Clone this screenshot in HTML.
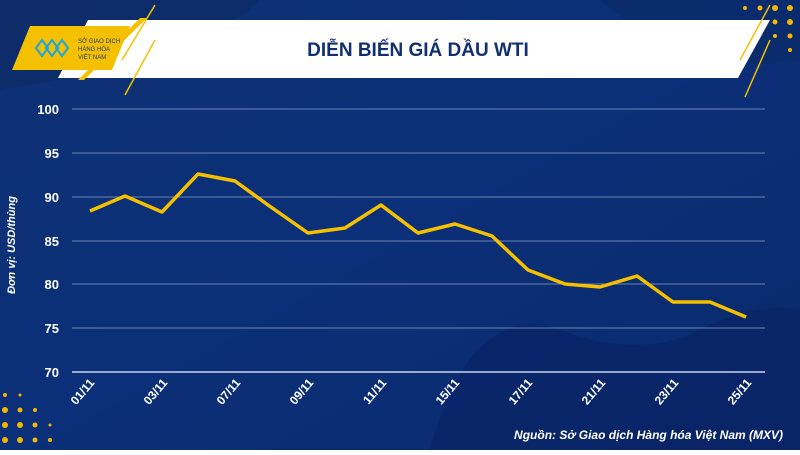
<!DOCTYPE html>
<html><head><meta charset="utf-8"><style>
body{margin:0;width:800px;height:450px;overflow:hidden;font-family:"Liberation Sans",sans-serif}
</style></head><body>
<svg width="800" height="450" viewBox="0 0 800 450" xmlns="http://www.w3.org/2000/svg">
<defs>
<linearGradient id="bg" x1="0" y1="0" x2="1" y2="1">
<stop offset="0" stop-color="#0f3274"/><stop offset="0.5" stop-color="#0b2f78"/><stop offset="1" stop-color="#0a2a6a"/>
</linearGradient>
</defs>
<rect width="800" height="450" fill="url(#bg)"/>
<path d="M0 0 L260 0 Q200 60 0 90 Z" fill="#0d2a62" opacity="0.6"/>
<path d="M430 450 Q470 300 560 330 Q640 360 700 330 Q760 300 800 310 L800 450 Z" fill="#082466" opacity="0.7"/>
<path d="M600 0 Q700 80 800 60 L800 0 Z" fill="#0a2a66" opacity="0.6"/>
<g fill="#f5b800">
<circle cx="745" cy="8" r="2"/><circle cx="760" cy="8" r="2.5"/><circle cx="775" cy="8" r="3"/><circle cx="790" cy="8" r="3"/>
<circle cx="760" cy="22" r="2"/><circle cx="775" cy="22" r="2.5"/><circle cx="790" cy="22" r="3"/>
<circle cx="775" cy="36" r="2"/><circle cx="790" cy="36" r="2.5"/>
<circle cx="790" cy="50" r="2"/>
<circle cx="5" cy="395" r="2"/><circle cx="20" cy="395" r="1.5"/><circle cx="5" cy="410" r="3"/><circle cx="20" cy="410" r="2.5"/><circle cx="35" cy="410" r="2"/>
<circle cx="5" cy="425" r="3"/><circle cx="20" cy="425" r="3"/><circle cx="35" cy="425" r="2.5"/><circle cx="50" cy="425" r="1.5"/>
<circle cx="5" cy="440" r="3"/><circle cx="20" cy="440" r="3"/><circle cx="35" cy="440" r="2.5"/><circle cx="50" cy="440" r="2"/>
</g>
<polygon points="88,20 770,20 738,78 58,78" fill="#ffffff"/>
<polygon points="30,26 130,26 112,70 12,70" fill="#f5c000"/>
<polygon points="140,18 147,18 84,80 78,80" fill="#f5c000"/>
<line x1="155" y1="5" x2="122" y2="60" stroke="#f5c000" stroke-width="1.5"/>
<line x1="155" y1="40" x2="125" y2="95" stroke="#f5c000" stroke-width="1.5"/>
<line x1="770" y1="5" x2="740" y2="60" stroke="#f5c000" stroke-width="1.5"/>
<line x1="770" y1="40" x2="745" y2="97" stroke="#f5c000" stroke-width="1.5"/>
<g stroke="#1aa6e0" stroke-width="2" fill="none">
<path d="M36 48 l6 -8 l6 8 l-6 8 z"/><path d="M46 48 l6 -8 l6 8 l-6 8 z"/><path d="M56 48 l6 -8 l6 8 l-6 8 z"/>
</g>
<text x="78" y="43" font-size="6" fill="#1a3a7a">SỞ GIAO DỊCH</text>
<text x="78" y="51" font-size="6" fill="#1a3a7a">HÀNG HÓA</text>
<text x="78" y="59" font-size="6" fill="#1a3a7a">VIỆT NAM</text>
<text x="418" y="56" font-size="19" font-weight="bold" fill="#12306e" text-anchor="middle">DIỄN BIẾN GIÁ DẦU WTI</text>
<g stroke="#8aa0c8" stroke-width="0.8">
<line x1="72" y1="109" x2="765" y2="109"/><line x1="72" y1="153" x2="765" y2="153"/>
<line x1="72" y1="197" x2="765" y2="197"/><line x1="72" y1="241" x2="765" y2="241"/>
<line x1="72" y1="284" x2="765" y2="284"/><line x1="72" y1="328" x2="765" y2="328"/>
</g>
<line x1="72" y1="372" x2="765" y2="372" stroke="#c8d4ec" stroke-width="1.5"/>
<g font-size="13" font-weight="bold" fill="#fff" text-anchor="end">
<text x="59" y="114">100</text><text x="59" y="158">95</text><text x="59" y="202">90</text>
<text x="59" y="246">85</text><text x="59" y="289">80</text><text x="59" y="333">75</text><text x="59" y="377">70</text>
</g>
<text transform="translate(15,245) rotate(-90)" font-size="11" font-weight="bold" font-style="italic" fill="#fff" text-anchor="middle">Đơn vị: USD/thùng</text>
<polyline fill="none" stroke="#f5c000" stroke-width="3.5" stroke-linejoin="round" points="90,211 125,196 162,212 198,174 235,181 268,205 308,233 345,228 381,205 418,233 455,224 492,236 528,270 565,284 600,287 637,276 673,302 710,302 746,317"/>
<g font-size="12" font-weight="bold" fill="#fff" text-anchor="end">
<text transform="translate(95,383) rotate(-50)">01/11</text>
<text transform="translate(168,383) rotate(-50)">03/11</text>
<text transform="translate(241,383) rotate(-50)">07/11</text>
<text transform="translate(314,383) rotate(-50)">09/11</text>
<text transform="translate(387,383) rotate(-50)">11/11</text>
<text transform="translate(460,383) rotate(-50)">15/11</text>
<text transform="translate(533,383) rotate(-50)">17/11</text>
<text transform="translate(606,383) rotate(-50)">21/11</text>
<text transform="translate(679,383) rotate(-50)">23/11</text>
<text transform="translate(752,383) rotate(-50)">25/11</text>
</g>
<text x="783" y="439" font-size="12" font-weight="bold" font-style="italic" fill="#fff" text-anchor="end">Nguồn: Sở Giao dịch Hàng hóa Việt Nam (MXV)</text>
</svg>
</body></html>
